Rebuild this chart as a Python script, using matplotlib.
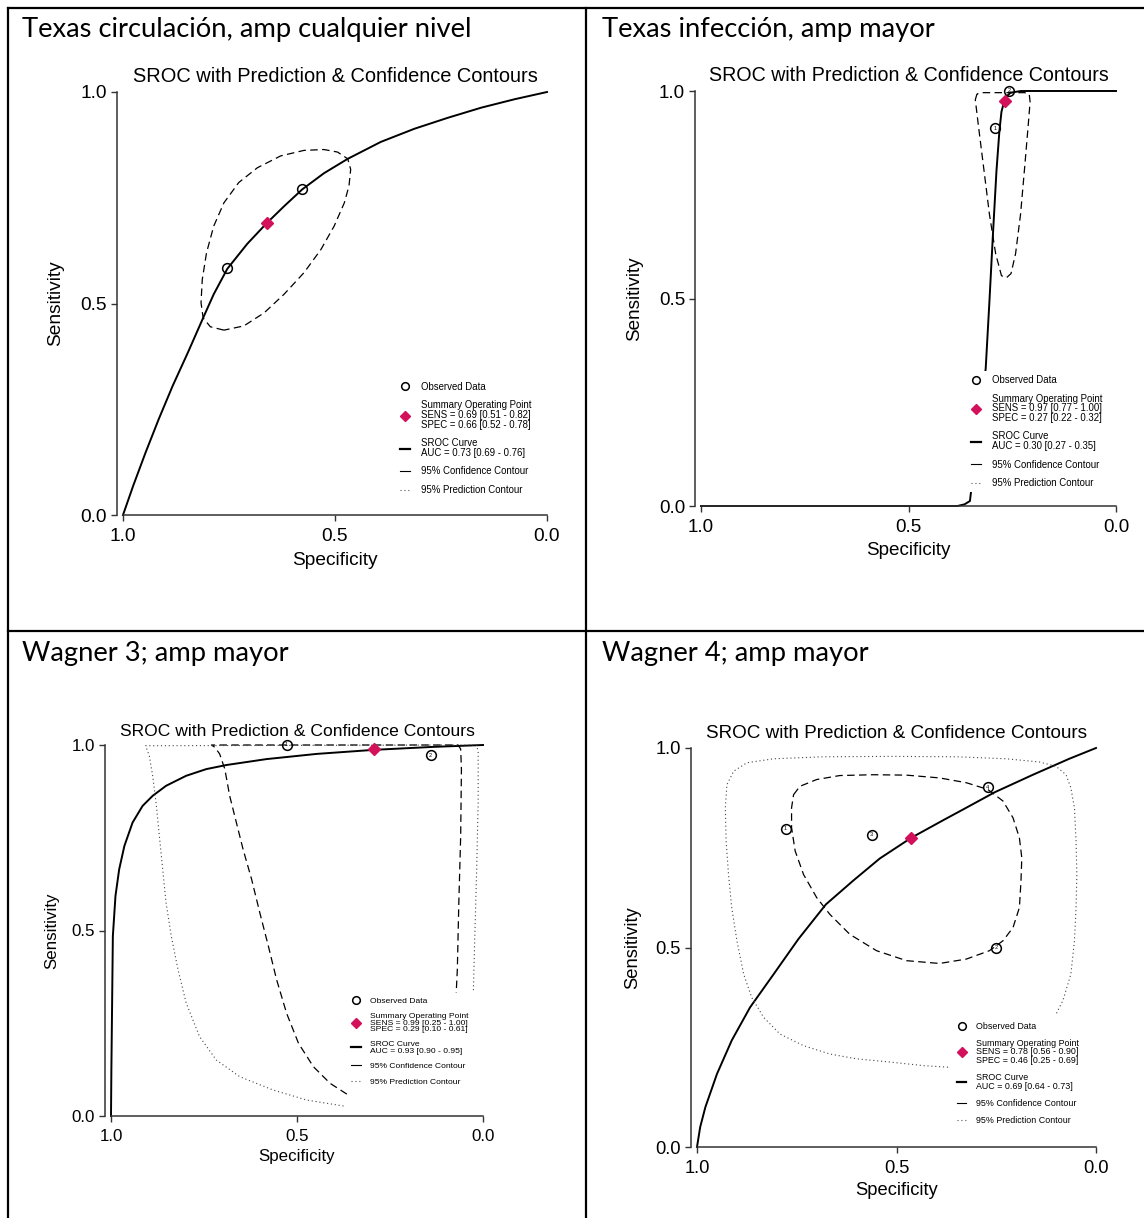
import matplotlib.pyplot as plt
from matplotlib.lines import Line2D

plt.rcParams['font.family'] = ['Liberation Sans', 'DejaVu Sans']

W, H = 1144, 1218
crimson = '#d3105a'

headers = ['Texas circulación, amp cualquier nivel', 'Texas infección, amp mayor',
           'Wagner 3; amp mayor', 'Wagner 4; amp mayor']
title = 'SROC with Prediction & Confidence Contours'

# panel 1 - Texas circulación
sroc1_spec = [1.0, 0.976, 0.947, 0.916, 0.883, 0.847, 0.811, 0.786, 0.754, 0.707, 0.661, 0.620,
              0.577, 0.526, 0.470, 0.392, 0.313, 0.234, 0.155, 0.076, 0.0]
sroc1_sens = [0.0, 0.069, 0.147, 0.226, 0.305, 0.384, 0.466, 0.522, 0.582, 0.641, 0.690, 0.730,
              0.770, 0.808, 0.842, 0.882, 0.913, 0.939, 0.963, 0.983, 1.0]
conf1_spec = [0.762, 0.794, 0.811, 0.816, 0.813, 0.803, 0.786, 0.762, 0.727, 0.683, 0.628, 0.573,
              0.526, 0.494, 0.470, 0.463, 0.467, 0.478, 0.502, 0.533, 0.573, 0.620, 0.667, 0.715, 0.762]
conf1_sens = [0.437, 0.445, 0.466, 0.502, 0.557, 0.620, 0.683, 0.738, 0.786, 0.821, 0.849, 0.862,
              0.864, 0.858, 0.842, 0.817, 0.778, 0.738, 0.683, 0.628, 0.573, 0.522, 0.478, 0.447, 0.437]
obs1_spec = [0.754, 0.577]
obs1_sens = [0.584, 0.770]
obs1_lab = ['', '']
sum1 = [0.661, 0.690]
stats1 = ['SENS = 0.69 [0.51 - 0.82]', 'SPEC = 0.66 [0.52 - 0.78]', 'AUC = 0.73 [0.69 - 0.76]']

# panel 2 - Texas infección
sroc2_spec = [1.0, 0.382, 0.365, 0.352, 0.314, 0.305, 0.297, 0.288, 0.281, 0.276, 0.267, 0.254, 0.229, 0.0]
sroc2_sens = [0.0, 0.0, 0.004, 0.012, 0.331, 0.493, 0.646, 0.808, 0.903, 0.950, 0.984, 0.996, 1.0, 1.0]
conf2_spec = [0.335, 0.339, 0.331, 0.318, 0.305, 0.290, 0.276, 0.264, 0.253, 0.242, 0.230, 0.220,
              0.212, 0.207, 0.209, 0.220, 0.322, 0.335]
conf2_sens = [0.993, 0.979, 0.912, 0.808, 0.703, 0.608, 0.555, 0.550, 0.560, 0.608, 0.703, 0.817,
              0.912, 0.974, 0.992, 0.996, 0.996, 0.993]
obs2_spec = [0.291, 0.258]
obs2_sens = [0.910, 1.0]
obs2_lab = ['1', '2']
sum2 = [0.267, 0.976]
stats2 = ['SENS = 0.97 [0.77 - 1.00]', 'SPEC = 0.27 [0.22 - 0.32]', 'AUC = 0.30 [0.27 - 0.35]']

# panel 3 - Wagner 3
sroc3_spec = [1.0, 0.999, 0.997, 0.995, 0.988, 0.978, 0.964, 0.942, 0.915, 0.888, 0.852, 0.798,
              0.744, 0.690, 0.582, 0.447, 0.292, 0.132, 0.0]
sroc3_sens = [0.0, 0.124, 0.305, 0.485, 0.593, 0.665, 0.728, 0.791, 0.836, 0.863, 0.890, 0.917,
              0.935, 0.946, 0.962, 0.976, 0.987, 0.995, 1.0]
conf3_spec = [0.366, 0.411, 0.456, 0.496, 0.528, 0.555, 0.577, 0.600, 0.622, 0.645, 0.663, 0.681,
              0.694, 0.708, 0.721, 0.730, 0.067, 0.060, 0.058, 0.060, 0.065, 0.069, 0.072]
conf3_sens = [0.059, 0.088, 0.133, 0.196, 0.277, 0.368, 0.458, 0.548, 0.638, 0.719, 0.791, 0.863,
              0.935, 0.976, 0.994, 1.0, 1.0, 0.989, 0.935, 0.755, 0.575, 0.395, 0.332]
pred3_spec = [0.375, 0.474, 0.564, 0.654, 0.717, 0.762, 0.798, 0.820, 0.838, 0.852, 0.861, 0.870,
              0.879, 0.888, 0.897, 0.907, 0.017, 0.013, 0.013, 0.017, 0.022, 0.026]
pred3_sens = [0.027, 0.043, 0.070, 0.106, 0.151, 0.214, 0.305, 0.395, 0.485, 0.575, 0.665, 0.755,
              0.845, 0.917, 0.971, 0.998, 1.0, 0.980, 0.845, 0.665, 0.485, 0.332]
obs3_spec = [0.528, 0.141]
obs3_sens = [1.0, 0.973]
obs3_lab = ['1', '2']
sum3 = [0.292, 0.989]
stats3 = ['SENS = 0.99 [0.25 - 1.00]', 'SPEC = 0.29 [0.10 - 0.61]', 'AUC = 0.93 [0.90 - 0.95]']

# panel 4 - Wagner 4
sroc4_spec = [1.0, 0.992, 0.979, 0.950, 0.913, 0.867, 0.808, 0.746, 0.677, 0.608, 0.542, 0.463,
              0.383, 0.333, 0.254, 0.158, 0.067, 0.0]
sroc4_sens = [0.0, 0.050, 0.100, 0.183, 0.267, 0.350, 0.433, 0.521, 0.608, 0.668, 0.723, 0.775,
              0.819, 0.846, 0.889, 0.933, 0.973, 1.0]
conf4_spec = [0.758, 0.742, 0.700, 0.642, 0.558, 0.475, 0.392, 0.325, 0.271, 0.233, 0.208, 0.192,
              0.186, 0.188, 0.192, 0.208, 0.233, 0.267, 0.325, 0.392, 0.475, 0.550, 0.617, 0.667,
              0.700, 0.733, 0.754, 0.763, 0.763, 0.758]
conf4_sens = [0.883, 0.904, 0.921, 0.931, 0.933, 0.932, 0.925, 0.913, 0.896, 0.867, 0.825, 0.775,
              0.725, 0.667, 0.600, 0.550, 0.517, 0.492, 0.471, 0.460, 0.467, 0.492, 0.533, 0.583,
              0.625, 0.683, 0.742, 0.800, 0.850, 0.883]
pred4_spec = [0.371, 0.433, 0.517, 0.600, 0.667, 0.733, 0.792, 0.833, 0.863, 0.883, 0.900, 0.913,
              0.921, 0.927, 0.929, 0.925, 0.908, 0.875, 0.808, 0.683, 0.517, 0.350, 0.225, 0.142,
              0.100, 0.075, 0.063, 0.054, 0.050, 0.048, 0.050, 0.054, 0.063, 0.083, 0.100]
pred4_sens = [0.200, 0.204, 0.213, 0.221, 0.233, 0.254, 0.283, 0.325, 0.375, 0.433, 0.517, 0.600,
              0.683, 0.767, 0.850, 0.908, 0.942, 0.963, 0.973, 0.978, 0.979, 0.978, 0.973, 0.965,
              0.954, 0.933, 0.900, 0.850, 0.767, 0.683, 0.600, 0.517, 0.433, 0.367, 0.333]
obs4_spec = [0.778, 0.250, 0.562, 0.271]
obs4_sens = [0.798, 0.500, 0.783, 0.902]
obs4_lab = ['1', '2', '3', '4']
sum4 = [0.463, 0.775]
stats4 = ['SENS = 0.78 [0.56 - 0.90]', 'SPEC = 0.46 [0.25 - 0.69]', 'AUC = 0.69 [0.64 - 0.73]']

ticks = [1.0, 0.5, 0.0]
tick_labels = ['1.0', '0.5', '0.0']

fig = plt.figure(figsize=(W / 100, H / 100), dpi=100)


def px_rect(left, top, right, bottom):
    return [left / W, 1 - bottom / H, (right - left) / W, (bottom - top) / H]


def panel(rect, fs, tfs, lfs, leg_xy, sroc, conf, pred, obs, summ, stats):
    ax = fig.add_axes(px_rect(*rect))
    ax.set_xlim(1, 0)
    ax.set_ylim(0, 1)
    ax.plot(sroc[0], sroc[1], color='black', lw=1.4, clip_on=False)
    if conf is not None:
        ax.plot(conf[0], conf[1], color='black', lw=0.9, dashes=(6, 3.5), clip_on=False)
    if pred is not None:
        ax.plot(pred[0], pred[1], color='#444444', lw=0.8, ls=(0, (1, 2.5)), clip_on=False)
    ax.plot(obs[0], obs[1], 'o', mfc='none', mec='black', ms=7, mew=1.1, clip_on=False)
    for x, y, s in zip(obs[0], obs[1], obs[2]):
        ax.text(x, y, s, fontsize=4, ha='center', va='center')
    ax.plot(summ[0], summ[1], 'D', color=crimson, ms=6.3, clip_on=False)

    ax.spines[['top', 'right']].set_visible(False)
    ax.spines['left'].set_position(('outward', 4))
    ax.spines['left'].set_bounds(0, 1)
    ax.spines['bottom'].set_bounds(0, 1)
    for s in ['left', 'bottom']:
        ax.spines[s].set_color('#333333')
        ax.spines[s].set_linewidth(1.1)
    ax.set_xticks(ticks, tick_labels)
    ax.set_yticks(ticks, tick_labels)
    ax.tick_params(direction='out', length=4.5, width=1.0, color='#333333', labelsize=fs)
    ax.tick_params(axis='x', pad=5)
    ax.tick_params(axis='y', pad=3)
    ax.set_xlabel('Specificity', fontsize=fs, va='center')
    ax.set_ylabel('Sensitivity', fontsize=fs, va='center', ha='center')
    ax.xaxis.set_label_coords(0.5, -0.108)
    ax.yaxis.set_label_coords(-0.16, 0.5)
    ax.text(0.5, 1.037, title, transform=ax.transAxes, fontsize=tfs, ha='center', va='center')

    handles = [Line2D([], [], ls='none', marker='o', mfc='none', mec='black', ms=5.5, mew=1.1),
               Line2D([], [], ls='none', marker='D', color=crimson, ms=5),
               Line2D([], [], color='black', lw=1.6),
               Line2D([], [], color='black', lw=0.8),
               Line2D([], [], color='#555555', lw=0.8, ls=(0, (1, 2.5)))]
    labels = ['Observed Data',
              'Summary Operating Point\n' + stats[0] + '\n' + stats[1],
              'SROC Curve\n' + stats[2],
              '95% Confidence Contour',
              '95% Prediction Contour']
    leg = ax.legend(handles, labels, loc='upper left', bbox_to_anchor=leg_xy, fontsize=lfs,
                    frameon=True, facecolor='white', edgecolor='none', framealpha=1, fancybox=False,
                    borderpad=0.4, borderaxespad=0, handlelength=1.1, handletextpad=1.1,
                    labelspacing=0.9)
    for t in leg.get_texts():
        t.set_linespacing(0.95)
    return ax


panel((123, 92, 547, 515), 13.8, 14.4, 6.9, (0.644, 0.324),
      (sroc1_spec, sroc1_sens), (conf1_spec, conf1_sens), None,
      (obs1_spec, obs1_sens, obs1_lab), sum1, stats1)
panel((701, 91, 1116, 506), 13.6, 14.1, 6.9, (0.641, 0.325),
      (sroc2_spec, sroc2_sens), (conf2_spec, conf2_sens), None,
      (obs2_spec, obs2_sens, obs2_lab), sum2, stats2)
panel((111, 745, 483, 1116), 12.2, 12.6, 6.1, (0.637, 0.329),
      (sroc3_spec, sroc3_sens), (conf3_spec, conf3_sens), (pred3_spec, pred3_sens),
      (obs3_spec, obs3_sens, obs3_lab), sum3, stats3)
panel((697, 748, 1096, 1147), 13.2, 13.6, 6.4, (0.642, 0.323),
      (sroc4_spec, sroc4_sens), (conf4_spec, conf4_sens), (pred4_spec, pred4_sens),
      (obs4_spec, obs4_sens, obs4_lab), sum4, stats4)

# panel headers
for (x, y), s in zip([(22, 37.5), (602, 37.5), (22, 661), (602, 661)], headers):
    fig.text(x / W, 1 - y / H, s, fontsize=19.7, family='Lato', ha='left', va='baseline')

# table borders
lw = 1.6
fig.add_artist(Line2D([8 / W, 1], [1 - 8 / H, 1 - 8 / H], color='black', lw=lw))
fig.add_artist(Line2D([8 / W, 1], [1 - 631 / H, 1 - 631 / H], color='black', lw=lw))
fig.add_artist(Line2D([8 / W, 8 / W], [0, 1 - 8 / H], color='black', lw=lw))
fig.add_artist(Line2D([586 / W, 586 / W], [0, 1 - 8 / H], color='black', lw=lw))

fig.savefig('out.png', dpi=100)
